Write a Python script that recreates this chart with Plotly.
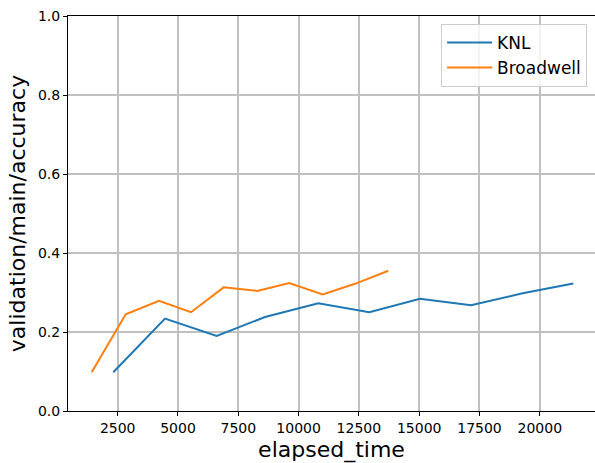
import plotly.graph_objects as go

knl_x = [2318, 4461, 6605, 8607, 10817, 12931, 15033, 17148, 19290, 21389]
knl_y = [0.098, 0.234, 0.190, 0.238, 0.273, 0.250, 0.284, 0.268, 0.298, 0.323]

bdw_x = [1422, 2832, 4212, 5539, 6895, 8288, 9614, 10999, 12340, 13719]
bdw_y = [0.098, 0.245, 0.279, 0.250, 0.313, 0.304, 0.324, 0.295, 0.322, 0.355]

x_ticks = [2500, 5000, 7500, 10000, 12500, 15000, 17500, 20000]
y_ticks = [0.0, 0.2, 0.4, 0.6, 0.8, 1.0]

fig = go.Figure()
fig.add_trace(go.Scatter(x=knl_x, y=knl_y, mode="lines", name="KNL",
                         line=dict(color="#1f77b4", width=2)))
fig.add_trace(go.Scatter(x=bdw_x, y=bdw_y, mode="lines", name="Broadwell",
                         line=dict(color="#ff7f0e", width=2)))

font = "DejaVu Sans"
fig.update_layout(
    width=595, height=463,
    margin=dict(l=68, r=0, t=16, b=52),
    paper_bgcolor="white", plot_bgcolor="white",
    font=dict(family=font, color="black"),
    showlegend=True,
    legend=dict(x=0.985, y=0.98, xanchor="right", yanchor="top",
                bgcolor="rgba(255,255,255,0.8)", bordercolor="#cccccc", borderwidth=1,
                font=dict(size=17, family=font), itemwidth=45,
                tracegroupgap=2),
    xaxis=dict(range=[440, 22289], tickvals=x_ticks, ticktext=[str(v) for v in x_ticks],
               showgrid=True, gridcolor="#c0c0c0", gridwidth=1.5,
               showline=True, linecolor="black", linewidth=1, mirror=True,
               ticks="outside", ticklen=4, tickcolor="black",
               tickfont=dict(size=14, family=font), zeroline=False,
               title=dict(text="elapsed_time", font=dict(size=22, family=font), standoff=6)),
    yaxis=dict(range=[0, 1], tickvals=y_ticks, ticktext=[f"{v:.1f}" for v in y_ticks],
               showgrid=True, gridcolor="#c0c0c0", gridwidth=1.5,
               showline=True, linecolor="black", linewidth=1, mirror=True,
               ticks="outside", ticklen=4, tickcolor="black",
               tickfont=dict(size=14, family=font), zeroline=False,
               title=dict(text="validation/main/accuracy", font=dict(size=22, family=font), standoff=6)),
)
fig.write_html("out.html")
